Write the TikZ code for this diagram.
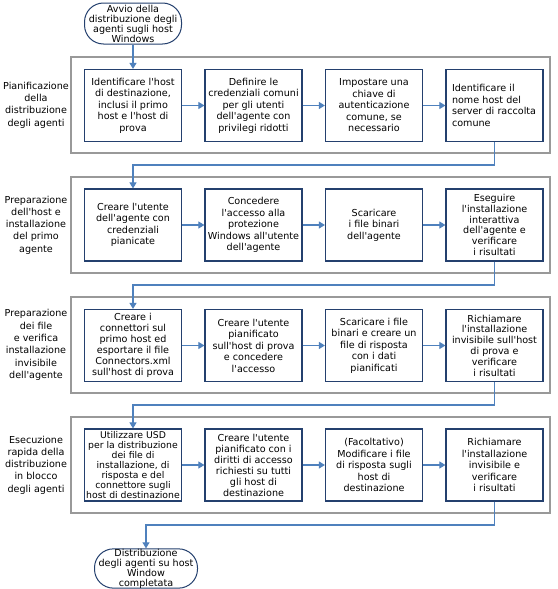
\documentclass[tikz,border=0pt]{standalone}
\usepackage{fontspec}
\setmainfont{DejaVu Sans}
\usetikzlibrary{arrows.meta}
\definecolor{boxblue}{RGB}{36,64,110}
\definecolor{linkblue}{RGB}{79,129,189}
\definecolor{framegray}{RGB}{153,153,153}
\newcommand{\apo}{\textquotesingle}
\begin{document}
\begin{tikzpicture}[x=1pt,y=-1pt,
  stepbox/.style={draw=boxblue, line width=1.2pt, fill=white, minimum width=97pt, minimum height=72pt, inner sep=0pt, align=center, font=\fontsize{9.6}{11.5}\selectfont},
  frame/.style={draw=framegray, line width=1.4pt, minimum width=479pt, minimum height=96pt, inner sep=0pt},
  pill/.style={draw=boxblue, line width=1pt, fill=white, rounded corners=19pt, inner sep=0pt, align=center, font=\fontsize{9.6}{10}\selectfont},
  link/.style={draw=linkblue, line width=1.1pt, -{Triangle[width=7pt,length=6pt]}},
  lab/.style={align=center, inner sep=0pt, font=\fontsize{9.6}{12.3}\selectfont}]
\useasboundingbox (0,0) rectangle (557,589);
\fill[white] (0,0) rectangle (557,589);

% frames
\node[frame] (f1) at (310.5,105) {};
\node[frame] (f2) at (310.5,225) {};
\node[frame] (f3) at (310.5,345) {};
\node[frame] (f4) at (310.5,465) {};

% row labels
\node[lab] (l1) at (36,105) {Pianificazione\\della\\distribuzione\\degli agenti};
\node[lab] (l2) at (36,225) {Preparazione\\dell\apo host e\\installazione\\del primo\\agente};
\node[lab] (l3) at (36,345) {Preparazione\\dei file\\e verifica\\installazione\\invisibile\\dell\apo agente};
\node[lab] (l4) at (36,465) {Esecuzione\\rapida della\\distribuzione\\in blocco\\degli agenti};

% start / end
\node[pill, minimum width=97pt, minimum height=41pt] (start) at (133,23.5) {Avvio della\\distribuzione degli\\agenti sugli host\\Windows};
\node[pill, minimum width=103pt, minimum height=39pt] (end) at (146,568.5) {Distribuzione\\degli agenti su host\\Window\\completata};

% row 1
\node[stepbox] (b11) at (133,105.5) {Identificare l\apo host\\di destinazione,\\inclusi il primo\\host e l\apo host di\\prova};
\node[stepbox] (b12) at (253.5,105.5) {Definire le\\credenziali comuni\\per gli utenti\\dell\apo agente con\\privilegi ridotti};
\node[stepbox] (b13) at (374,105.5) {Impostare una\\chiave di\\autenticazione\\comune, se\\necessario};
\node[stepbox, align=left, text width=85pt] (b14) at (494.5,105.5) {Identificare il\\nome host del\\server di raccolta\\comune};

% row 2
\node[stepbox] (b21) at (133,225) {Creare l\apo utente\\dell\apo agente con\\credenziali\\pianicate};
\node[stepbox] (b22) at (253.5,225) {Concedere\\l\apo accesso alla\\protezione\\Windows all\apo utente\\dell\apo agente};
\node[stepbox] (b23) at (374,225) {Scaricare\\i file binari\\dell\apo agente};
\node[stepbox, font=\fontsize{9.6}{10.8}\selectfont] (b24) at (494.5,225) {Eseguire\\l\apo installazione\\interattiva\\dell\apo agente e\\verificare\\i risultati};

% row 3
\node[stepbox, font=\fontsize{9.6}{11}\selectfont] (b31) at (133,345.5) {Creare i\\connettori sul\\primo host ed\\esportare il file\\Connectors.xml\\sull\apo host di prova};
\node[stepbox] (b32) at (253.5,345.5) {Creare l\apo utente\\pianificato\\sull\apo host di prova\\e concedere\\l\apo accesso};
\node[stepbox] (b33) at (374,345.5) {Scaricare i file\\binari e creare un\\file di risposta\\con i dati\\pianificati};
\node[stepbox, font=\fontsize{9.6}{10.8}\selectfont] (b34) at (494.5,345.5) {Richiamare\\l\apo installazione\\invisibile sull\apo host\\di prova e\\verificare\\i risultati};

% row 4
\node[stepbox, font=\fontsize{9.3}{10.1}\selectfont] (b41) at (133,465) {Utilizzare USD\\per la distribuzione\\dei file di\\installazione, di\\risposta e del\\connettore sugli\\host di destinazione};
\node[stepbox, font=\fontsize{9.6}{11}\selectfont] (b42) at (253.5,465) {Creare l\apo utente\\pianificato con i\\diritti di accesso\\richiesti su tutti\\gli host di\\destinazione};
\node[stepbox] (b43) at (374,465) {(Facoltativo)\\Modificare i file\\di risposta sugli\\host di\\destinazione};
\node[stepbox] (b44) at (494.5,465) {Richiamare\\l\apo installazione\\invisibile e\\verificare\\i risultati};

% junctions
\coordinate (j1) at (133,165);
\coordinate (j2) at (133,285);
\coordinate (j3) at (133,405);
\coordinate (j4) at (146,525);

% connectors
\draw[link] (start.south) -- (b11.north);
\draw[link] (b11) -- (b12);
\draw[link] (b12) -- (b13);
\draw[link] (b13) -- (b14);
\draw[link] (b14.south) |- (j1) -- (b21.north);
\draw[link] (b21) -- (b22);
\draw[link] (b22) -- (b23);
\draw[link] (b23) -- (b24);
\draw[link] (b24.south) |- (j2) -- (b31.north);
\draw[link] (b31) -- (b32);
\draw[link] (b32) -- (b33);
\draw[link] (b33) -- (b34);
\draw[link] (b34.south) |- (j3) -- (b41.north);
\draw[link] (b41) -- (b42);
\draw[link] (b42) -- (b43);
\draw[link] (b43) -- (b44);
\draw[link] (b44.south) |- (j4) -- (end.north);
\end{tikzpicture}
\end{document}
